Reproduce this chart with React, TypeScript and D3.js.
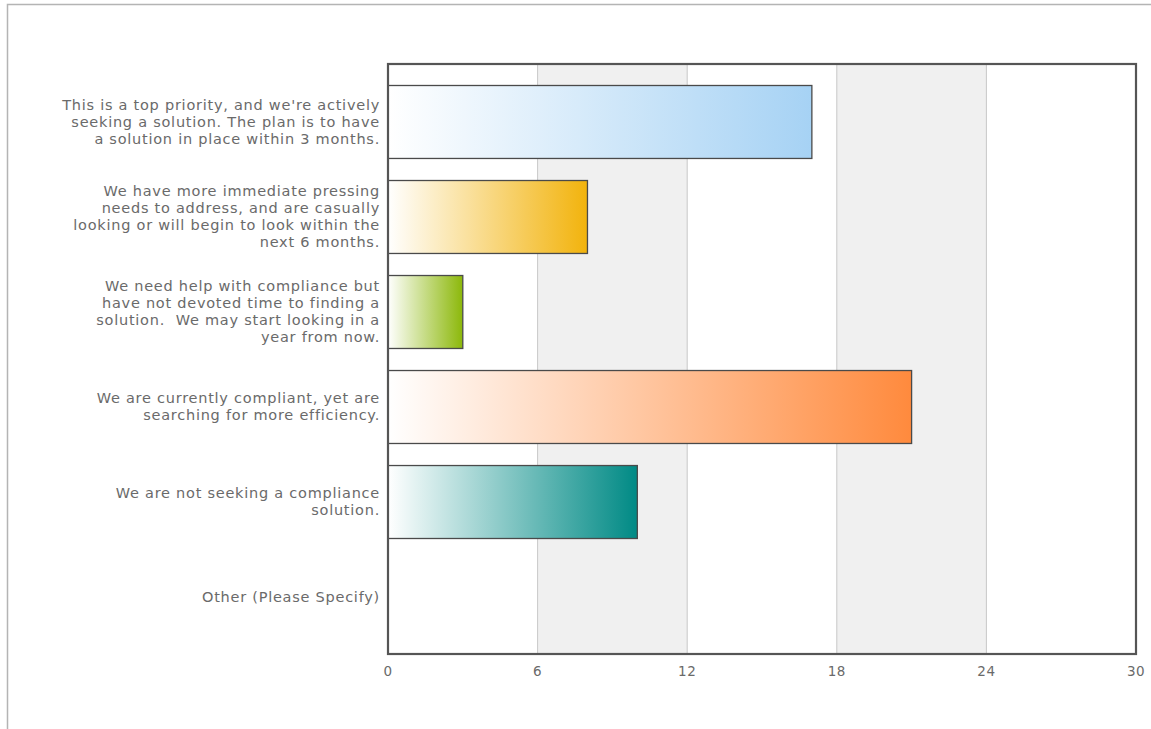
import React from "react";
import * as d3 from "d3";

const categories: string[][] = [
  ["This is a top priority, and we're actively", "seeking a solution. The plan is to have", "a solution in place within 3 months."],
  ["We have more immediate pressing", "needs to address, and are casually", "looking or will begin to look within the", "next 6 months."],
  ["We need help with compliance but", "have not devoted time to finding a", "solution.  We may start looking in a", "year from now."],
  ["We are currently compliant, yet are", "searching for more efficiency."],
  ["We are not seeking a compliance", "solution."],
  ["Other (Please Specify)"],
];
const values: number[] = [17, 8, 3, 21, 10, 0];
const barColors: string[] = ["#a6d2f4", "#f2b30c", "#8cb80a", "#ff8a3d", "#008a85"];
const tickValues: number[] = [0, 6, 12, 18, 24, 30];

const W = 1151;
const H = 729;
const left = 388;
const right = 1136;
const top = 64;
const bottom = 654;

export default function App() {
  const x = d3.scaleLinear().domain([0, 30]).range([left, right]);
  const y = d3
    .scaleBand<number>()
    .domain(d3.range(categories.length))
    .range([top, bottom])
    .paddingInner(0.232)
    .paddingOuter(0.221);
  const font = "DejaVu Sans";
  const lineH = 17;
  return (
    <div style={{ position: "absolute", left: 0, top: 0 }}>
      <svg width={W} height={H} style={{ display: "block" }}>
        <defs>
          {barColors.map((c, i) => (
            <linearGradient key={i} id={`g${i}`} x1="0" x2="1" y1="0" y2="0">
              <stop offset="0%" stopColor="#ffffff" />
              <stop offset="100%" stopColor={c} />
            </linearGradient>
          ))}
        </defs>
        <rect x={0} y={0} width={W} height={H} fill="#fff" />
        <rect x={7.5} y={4.5} width={W + 10} height={H + 10} fill="none" stroke="#b4b4b4" strokeWidth={1.5} />
        {tickValues.slice(0, -1).map((t, i) =>
          i % 2 === 1 ? (
            <rect key={`b${i}`} x={x(t)} y={top} width={x(tickValues[i + 1]) - x(t)} height={bottom - top} fill="#f0f0f0" />
          ) : null
        )}
        {tickValues.slice(1, -1).map((t) => (
          <line key={`gl${t}`} x1={x(t)} x2={x(t)} y1={top} y2={bottom} stroke="#c8c8c8" strokeWidth={1} />
        ))}
        {values.map((v, i) =>
          v > 0 ? (
            <rect
              key={`bar${i}`}
              x={x(0)}
              y={y(i)! + 0.5}
              width={x(v) - x(0)}
              height={y.bandwidth()}
              fill={`url(#g${i})`}
              stroke="#4a4a4a"
              strokeWidth={1.3}
            />
          ) : null
        )}
        <rect x={left} y={top} width={right - left} height={bottom - top} fill="none" stroke="#555" strokeWidth={2.2} />
        {categories.map((lines, i) => {
          const cy = y(i)! + y.bandwidth() / 2;
          const startY = cy - ((lines.length - 1) * lineH) / 2;
          return (
            <text key={`l${i}`} textAnchor="end" fontFamily={font} fontSize={14.5} letterSpacing={0.75} fill="#6a6a6a">
              {lines.map((ln, j) => (
                <tspan key={j} x={380} y={startY + j * lineH} dy="0.35em" style={{ whiteSpace: "pre" }}>
                  {ln}
                </tspan>
              ))}
            </text>
          );
        })}
        {tickValues.map((t) => (
          <text key={`t${t}`} x={x(t)} y={671} dy="0.35em" textAnchor="middle" fontFamily={font} fontSize={13.5} letterSpacing={0.5} fill="#6a6a6a">
            {t}
          </text>
        ))}
      </svg>
    </div>
  );
}
